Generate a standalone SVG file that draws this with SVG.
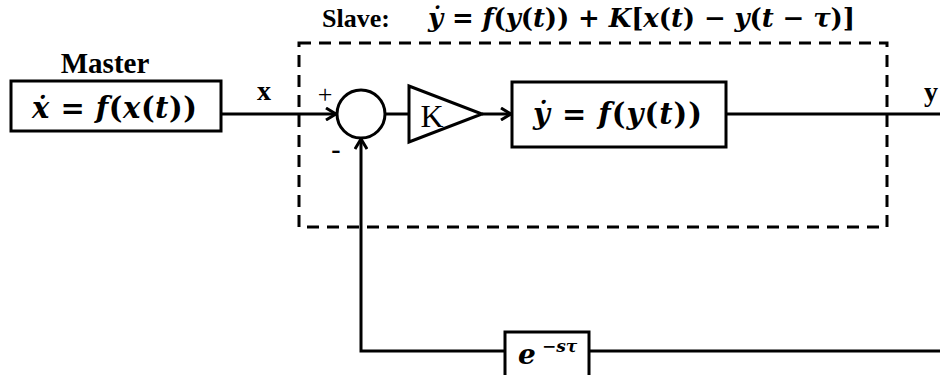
<svg xmlns="http://www.w3.org/2000/svg" width="940" height="375" viewBox="0 0 940 375">
<style>
.ln{stroke:#000;stroke-width:3;fill:none}
.bx{stroke:#000;stroke-width:3;fill:#fff}
.dash{stroke:#000;stroke-width:3;fill:none;stroke-dasharray:12 8}
.lbl{font-family:"Liberation Serif",serif;font-weight:bold;fill:#000}
.m{font-family:"DejaVu Serif","Liberation Serif",serif;font-weight:bold;fill:#000}
.i{font-style:italic}
</style>
<defs>
<marker id="ah" markerWidth="14" markerHeight="14" refX="12" refY="7" orient="auto" markerUnits="userSpaceOnUse">
<path d="M2,1 L12,7 L2,13" fill="none" stroke="#000" stroke-width="3"/>
</marker>
</defs>
<g id="slave-box">
<rect class="dash" x="299" y="43" width="588" height="184"/>
<text class="lbl" x="322" y="27" font-size="26">Slave:</text>
<text class="m" x="428" y="27" font-size="26" textLength="427" lengthAdjust="spacing"><tspan class="i">ẏ</tspan> = <tspan class="i">f</tspan>(<tspan class="i">y</tspan>(<tspan class="i">t</tspan>)) + <tspan class="i">K</tspan>[<tspan class="i">x</tspan>(<tspan class="i">t</tspan>) − <tspan class="i">y</tspan>(<tspan class="i">t</tspan> − <tspan class="i">τ</tspan>)]</text>
</g>
<g id="connectors">
<line class="ln" x1="221" y1="114" x2="336" y2="114" marker-end="url(#ah)"/>
<line class="ln" x1="385" y1="114" x2="409" y2="114"/>
<line class="ln" x1="482" y1="114" x2="511" y2="114" marker-end="url(#ah)"/>
<line class="ln" x1="726" y1="114" x2="940" y2="114"/>
<polyline class="ln" points="940,351 589,351"/>
<polyline class="ln" points="505,351 361,351 361,139" marker-end="url(#ah)"/>
<text class="lbl" x="264" y="100" font-size="28" text-anchor="middle">x</text>
<text class="lbl" x="931" y="101" font-size="28" text-anchor="middle">y</text>
<text x="325" y="103" font-family="Liberation Serif,serif" font-size="26" text-anchor="middle">+</text>
<text class="lbl" x="336" y="158" font-size="28" text-anchor="middle">-</text>
</g>
<g id="master">
<text class="lbl" x="105" y="73" font-size="29" text-anchor="middle">Master</text>
<rect class="bx" x="11" y="81" width="210" height="50"/>
<text class="m" x="32" y="118" font-size="29" textLength="165" lengthAdjust="spacing"><tspan class="i">ẋ</tspan> = <tspan class="i">f</tspan>(<tspan class="i">x</tspan>(<tspan class="i">t</tspan>))</text>
</g>
<g id="sum">
<circle class="bx" cx="361" cy="114" r="24"/>
</g>
<g id="gain">
<polygon class="bx" points="409,86 409,142 482,114"/>
<text x="432" y="127" font-family="Liberation Serif,serif" font-size="32" text-anchor="middle">K</text>
</g>
<g id="slave-dyn">
<rect class="bx" x="512" y="82" width="214" height="65"/>
<text class="m" x="533" y="124" font-size="29" textLength="169" lengthAdjust="spacing"><tspan class="i">ẏ</tspan> = <tspan class="i">f</tspan>(<tspan class="i">y</tspan>(<tspan class="i">t</tspan>))</text>
</g>
<g id="delay">
<rect class="bx" x="505" y="332" width="84" height="45"/>
<text class="m i" x="518" y="364" font-size="28">e</text>
<text class="m i" x="542" y="352" font-size="17">−sτ</text>
</g>
</svg>
